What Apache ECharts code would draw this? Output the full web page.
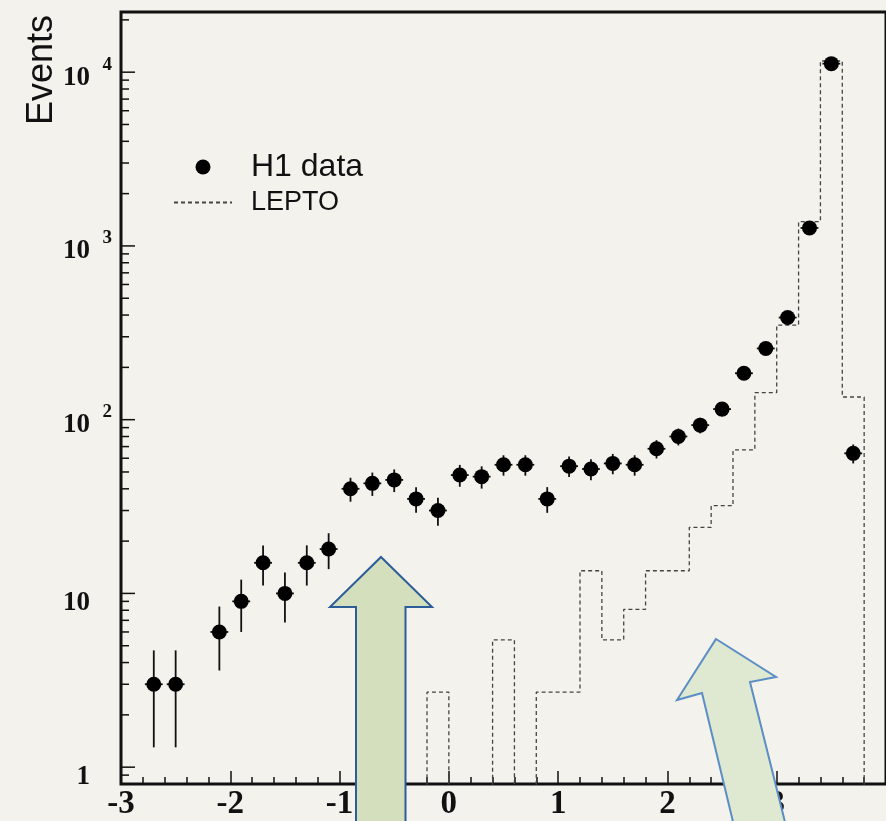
<!DOCTYPE html>
<html>
<head>
<meta charset="utf-8">
<script src="https://cdn.jsdelivr.net/npm/echarts@6/dist/echarts.min.js"></script>
<style>
  html, body { margin: 0; padding: 0; background: #f3f2ec; }
  #chart { width: 886px; height: 821px; }
</style>
</head>
<body>
<div id="chart"></div>
<script>
// H1 data: bin centres, event counts and statistical errors
const dataEta = [-2.7, -2.5, -2.1, -1.9, -1.7, -1.5, -1.3, -1.1, -0.9, -0.7, -0.5, -0.3, -0.1,
                 0.1, 0.3, 0.5, 0.7, 0.9, 1.1, 1.3, 1.5, 1.7, 1.9, 2.1, 2.3, 2.5, 2.7, 2.9, 3.1, 3.3, 3.5, 3.7];
const dataEvents = [3, 3, 6, 9, 15, 10, 15, 18, 40, 43, 45, 35, 30,
                    48, 47, 55, 55, 35, 54, 52, 56, 55, 68, 80, 93, 115, 185, 257, 387, 1270, 11200, 64];
const dataErrors = [1.7, 1.7, 2.4, 3, 3.9, 3.2, 3.9, 4.2, 6.3, 6.6, 6.7, 5.9, 5.5,
                    6.9, 6.9, 7.4, 7.4, 5.9, 7.3, 7.2, 7.5, 7.4, 8.2, 8.9, 9.6, 10.7, 13.6, 16, 19.7, 35.6, 106, 8];

// LEPTO prediction: lower bin edges and bin contents
const leptoBinLow = [-0.6, -0.4, -0.2, 0.0, 0.2, 0.4, 0.6, 0.8, 1.0, 1.2, 1.4,
                     1.6, 1.8, 2.0, 2.2, 2.4, 2.6, 2.8, 3.0, 3.2, 3.4, 3.6];
const leptoCounts = [2.7, 0, 2.7, 0, 0, 5.4, 0, 2.7, 2.7, 13.5, 5.4,
                     8.1, 13.5, 13.5, 24, 32, 67, 143, 350, 1380, 11600, 135];
const binWidth = 0.2;

// Axis ranges and ticks
const xMin = -3, xMax = 4;
const yMin = 0.8, yMax = 22200;
const yMajorTicks = [1, 10, 100, 1000, 10000];
const yMinorTicks = [0.9, 2, 3, 4, 5, 6, 7, 8, 9, 20, 30, 40, 50, 60, 70, 80, 90,
                     200, 300, 400, 500, 600, 700, 800, 900,
                     2000, 3000, 4000, 5000, 6000, 7000, 8000, 9000, 20000];

// Empty bins sit below the axis floor and are clipped away
const emptyLevel = 0.01;
const leptoPoints = [[leptoBinLow[0], emptyLevel]];
leptoBinLow.forEach((lo, i) => {
  const v = leptoCounts[i] > 0 ? leptoCounts[i] : emptyLevel;
  leptoPoints.push([lo, v], [lo + binWidth, v]);
});
leptoPoints.push([leptoBinLow[leptoBinLow.length - 1] + binWidth, emptyLevel]);

// Log-axis ticks: [x, value, tick length]
const yTickItems = yMajorTicks.map(v => [xMin, v, 14]).concat(yMinorTicks.map(v => [xMin, v, 8]));

const ink = '#111';
const serif = '"Liberation Serif", "DejaVu Serif", serif';
const sans = '"Liberation Sans", Arial, sans-serif';

const chart = echarts.init(document.getElementById('chart'));
chart.setOption({
  backgroundColor: '#f3f2ec',
  animation: false,
  grid: {
    left: 121, right: -10, top: 12, bottom: 34,
    show: true, borderColor: ink, borderWidth: 3, backgroundColor: 'transparent'
  },
  legend: {
    orient: 'vertical',
    left: 168, top: 146,
    itemWidth: 58, itemHeight: 15, itemGap: 6,
    textStyle: { fontFamily: sans, color: ink, padding: [0, 0, 0, 14] },
    data: [
      { name: 'H1 data', icon: 'circle', textStyle: { fontSize: 32 } },
      { name: 'LEPTO', textStyle: { fontSize: 27, padding: [6, 0, 0, 14] }, itemStyle: { color: 'transparent', borderColor: 'transparent', borderWidth: 0 } }
    ]
  },
  xAxis: {
    type: 'value', min: xMin, max: xMax, interval: 1,
    axisLine: { show: false, onZero: false },
    splitLine: { show: false },
    axisTick: { inside: true, length: 13, lineStyle: { color: ink, width: 1.5 } },
    minorTick: { show: true, splitNumber: 5, length: 7, lineStyle: { color: ink, width: 1.5 } },
    axisLabel: {
      margin: 4, showMaxLabel: false,
      fontFamily: serif, fontWeight: 'bold', fontSize: 33, color: ink
    }
  },
  yAxis: {
    type: 'log', logBase: 10, min: yMin, max: yMax,
    axisLine: { show: false, onZero: false },
    splitLine: { show: false },
    axisTick: { show: false },
    axisLabel: {
      customValues: yMajorTicks,
      margin: 9,
      padding: [8, 0, 0, 0],
      formatter: function (v) {
        const e = Math.round(Math.log10(v));
        if (e === 0) return '{b|1}{pad| }';
        if (e === 1) return '{b|10}{pad| }';
        return '{b|10}{sup|' + e + '}';
      },
      rich: {
        b: { fontFamily: serif, fontWeight: 'bold', fontSize: 27, lineHeight: 30, color: ink, verticalAlign: 'bottom' },
        pad: { width: 22, fontSize: 12, lineHeight: 38 },
        sup: { fontFamily: serif, fontWeight: 'bold', fontSize: 19, lineHeight: 13, color: ink, width: 10, padding: [0, 0, 17, 12], verticalAlign: 'bottom' }
      }
    }
  },
  graphic: [
    {
      type: 'text', x: 42, y: 70, rotation: Math.PI / 2, z: 10,
      style: { text: 'Events', fontFamily: sans, fontSize: 36, fill: ink, align: 'center', verticalAlign: 'middle' }
    },
    {
      type: 'polygon', z: 100,
      shape: { points: [[381, 557], [432, 607], [405.5, 607], [405.5, 830], [356, 830], [356, 607], [330, 607]] },
      style: { fill: '#d4e0bd', stroke: '#2c5d98', lineWidth: 2 }
    },
    {
      type: 'polygon', z: 100,
      shape: { points: [[716, 639], [776, 677], [750, 682], [787, 830], [735, 830], [702, 693], [677, 700]] },
      style: { fill: '#dfe8d0', stroke: '#5a8ec4', lineWidth: 2 }
    }
  ],
  series: [
    {
      name: 'LEPTO', type: 'line', symbol: 'none', clip: true, z: 2,
      lineStyle: { color: '#444', width: 1.3, type: [4, 3] },
      itemStyle: { color: '#444' },
      data: leptoPoints
    },
    {
      name: 'errors', type: 'custom', z: 3, clip: true,
      data: dataEta.map((x, i) => [x, dataEvents[i], dataErrors[i]]),
      encode: { x: 0, y: 1 },
      renderItem: function (params, api) {
        const x = api.value(0), y = api.value(1), e = api.value(2);
        const top = api.coord([x, y + e]);
        const bot = api.coord([x, Math.max(y - e, yMin)]);
        const l = api.coord([x - binWidth / 2, y]);
        const r = api.coord([x + binWidth / 2, y]);
        return {
          type: 'group',
          children: [
            { type: 'line', shape: { x1: top[0], y1: top[1], x2: bot[0], y2: bot[1] }, style: { stroke: ink, lineWidth: 1.8 } },
            { type: 'line', shape: { x1: l[0] + 2, y1: l[1], x2: r[0] - 2, y2: r[1] }, style: { stroke: ink, lineWidth: 1.8 } }
          ]
        };
      }
    },
    {
      name: 'H1 data', type: 'scatter', symbol: 'circle', symbolSize: 15, z: 4,
      itemStyle: { color: '#000', opacity: 1 },
      data: dataEta.map((x, i) => [x, dataEvents[i]])
    },
    {
      name: 'y ticks', type: 'custom', z: 5, silent: true,
      data: yTickItems,
      encode: { x: 0, y: 1 },
      renderItem: function (params, api) {
        const p = api.coord([api.value(0), api.value(1)]);
        const len = api.value(2);
        return { type: 'line', shape: { x1: p[0], y1: p[1], x2: p[0] + len, y2: p[1] }, style: { stroke: ink, lineWidth: 1.5 } };
      }
    }
  ]
});
</script>
</body>
</html>
